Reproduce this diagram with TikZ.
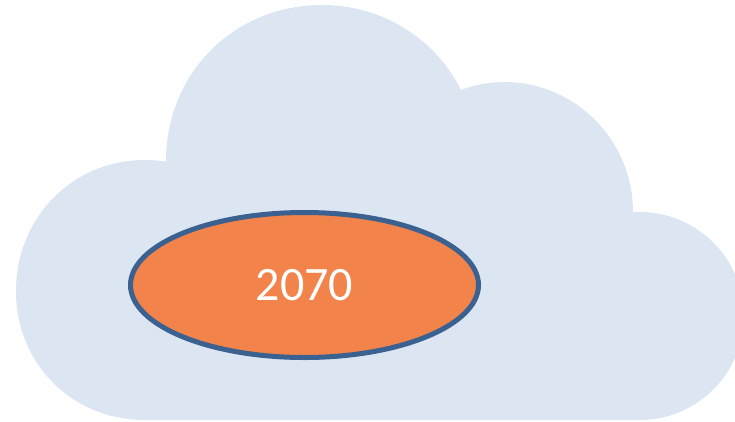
\documentclass[tikz,border=0pt]{standalone}
\usepackage{fontspec}
\setmainfont{Carlito}
\usetikzlibrary{shapes.geometric}
\definecolor{cloudfill}{HTML}{DCE6F2}
\definecolor{ovalfill}{HTML}{F2834B}
\definecolor{ovalline}{HTML}{3A6190}
\begin{document}
\begin{tikzpicture}[x=1pt,y=-1pt,
  ovalstyle/.style={ellipse,draw=ovalline,fill=ovalfill,line width=5pt,minimum width=348pt,minimum height=145pt,inner sep=0pt,text=white,font=\fontsize{48}{51}\selectfont}]
\useasboundingbox (0,0) rectangle (735,421);
\fill[cloudfill] (145,420)
  .. controls (72,420) and (16,364) .. (16,291)
  .. controls (16,218) and (72,160) .. (145,160)
  .. controls (152,160) and (159,160.5) .. (166,161.5)
  .. controls (166,72) and (235,5) .. (322,5)
  .. controls (382,5) and (435,38) .. (461,90)
  .. controls (474,85) and (489,82) .. (504,82)
  .. controls (575,82) and (633,140) .. (633,212)
  -- (640,212)
  .. controls (697,212) and (744,259) .. (744,316)
  .. controls (744,373) and (697,420) .. (640,420)
  -- cycle;
\node[ovalstyle] (oval) at (304.5,285) {2070};
\end{tikzpicture}
\end{document}
